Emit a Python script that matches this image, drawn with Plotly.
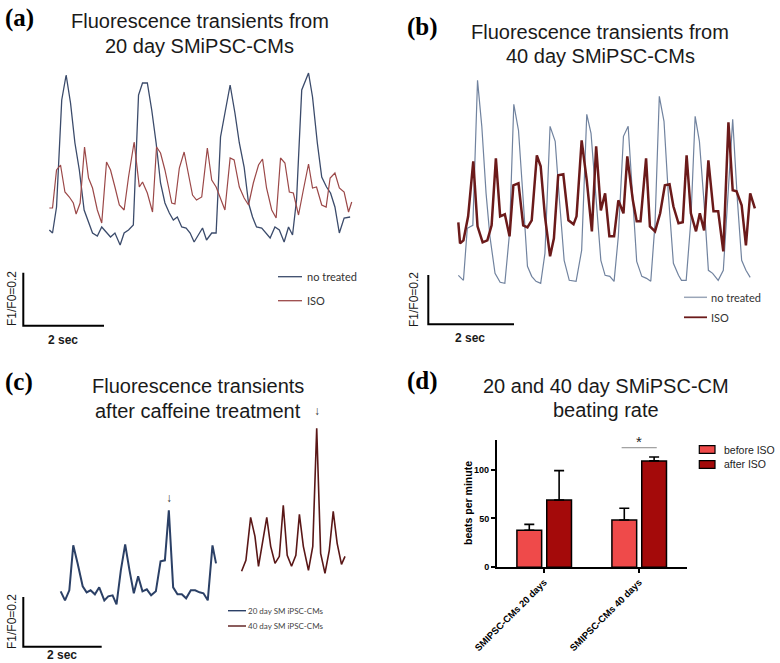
import plotly.graph_objects as go

# ---------------- data ----------------
# (a) 20 day SMiPSC-CMs : time (s) and fluorescence (a.u., 53 a.u. = 0.2 F1/F0)
A_BLUE_T = [0, .08, .18, .31, .42, .53, .64, .75, .87, .98, 1.08, 1.2, 1.31, 1.42, 1.53, 1.64, 1.77, 1.87, 1.98, 2.1,
            2.23, 2.33, 2.45, 2.56, 2.67, 2.78, 2.89, 3.0, 3.1, 3.2, 3.31, 3.42, 3.52, 3.62, 3.73, 3.83, 3.93, 4.06, 4.17, 4.28,
            4.39, 4.52, 4.64, 4.75, 4.87, 4.98, 5.08, 5.18, 5.31, 5.42, 5.52, 5.64, 5.75, 5.87, 5.98, 6.08, 6.18, 6.31, 6.48, 6.58,
            6.7, 6.81, 6.93, 7.03, 7.14, 7.25, 7.37, 7.52]
A_BLUE_V = [30, 27, 53, 160, 185, 157, 117, 90, 50, 37, 27, 24, 33, 28, 23, 27, 15, 27, 30, 35,
            165, 177, 177, 150, 117, 77, 57, 47, 40, 43, 33, 32, 27, 18, 25, 32, 20, 27, 27, 123,
            147, 175, 147, 117, 93, 57, 43, 33, 32, 27, 22, 33, 30, 18, 33, 25, 60, 170, 187, 163,
            117, 83, 73, 67, 53, 27, 42, 43]
A_RED_T = [0, .08, .18, .28, .39, .5, .6, .67, .77, .88, .98, 1.08, 1.2, 1.31, 1.43, 1.53, 1.64, 1.75, 1.87, 1.98,
           2.12, 2.25, 2.33, 2.45, 2.58, 2.68, 2.78, 2.89, 2.98, 3.06, 3.14, 3.25, 3.37, 3.48, 3.58, 3.68, 3.81, 3.95, 4.06, 4.17,
           4.27, 4.39, 4.52, 4.62, 4.75, 4.87, 4.98, 5.1, 5.23, 5.33, 5.43, 5.56, 5.67, 5.78, 5.89, 6.0, 6.1, 6.23, 6.35, 6.48,
           6.58, 6.68, 6.81, 6.92, 7.02, 7.14, 7.25, 7.37, 7.48, 7.56]
A_RED_V = [52, 52, 90, 95, 68, 63, 57, 46, 57, 113, 82, 72, 50, 37, 98, 90, 73, 55, 50, 83,
           118, 73, 78, 67, 48, 113, 107, 90, 73, 57, 56, 92, 108, 85, 65, 60, 63, 112, 80, 73,
           63, 50, 102, 100, 73, 62, 55, 77, 95, 101, 72, 50, 42, 102, 97, 68, 67, 45, 70, 96,
           72, 73, 55, 53, 82, 87, 72, 68, 48, 58]

# (b) 40 day SMiPSC-CMs
B_BLUE_T = [0, .12, .21, .34, .45, .55, .65, .74, .86, .98, 1.09, 1.2, 1.3, 1.41, 1.51, 1.62, 1.72, 1.82, 1.93, 2.03,
            2.15, 2.27, 2.37, 2.48, 2.6, 2.76, 2.89, 3.01, 3.11, 3.23, 3.34, 3.44, 3.55, 3.65, 3.75, 3.87, 3.98, 4.09, 4.18, 4.3,
            4.41, 4.51, 4.61, 4.71, 4.82, 4.92, 5.04, 5.16, 5.23, 5.34, 5.45, 5.55, 5.65, 5.76, 5.86, 5.96, 6.09, 6.21, 6.33, 6.43,
            6.54, 6.64, 6.74, 6.84]
B_BLUE_V = [18, 13, 65, 68, 213, 167, 100, 57, 20, 11, 10, 60, 189, 163, 100, 27, 17, 12, 10, 40,
            167, 152, 93, 33, 13, 12, 43, 179, 160, 93, 33, 18, 17, 12, 57, 157, 167, 93, 32, 17,
            15, 12, 70, 197, 172, 100, 30, 18, 13, 13, 73, 177, 152, 90, 23, 20, 13, 23, 103, 174,
            93, 33, 23, 16]
B_RED_T = [0, .04, .12, .23, .35, .45, .57, .68, .78, .88, .98, 1.09, 1.2, 1.29, 1.41, 1.52, 1.62, 1.72, 1.84, 1.93,
           2.03, 2.15, 2.24, 2.34, 2.46, 2.58, 2.7, 2.77, 2.89, 3.01, 3.13, 3.23, 3.34, 3.44, 3.54, 3.65, 3.75, 3.87, 3.96, 4.09,
           4.18, 4.27, 4.4, 4.49, 4.61, 4.73, 4.84, 4.95, 5.04, 5.16, 5.26, 5.35, 5.45, 5.57, 5.66, 5.76, 5.86, 5.98, 6.09, 6.21,
           6.33, 6.43, 6.52, 6.64, 6.74, 6.84, 6.95]
B_RED_V = [71, 50, 53, 77, 132, 67, 51, 53, 68, 135, 77, 79, 57, 108, 110, 68, 66, 73, 138, 127,
           77, 37, 55, 118, 119, 73, 69, 77, 153, 113, 62, 147, 83, 100, 57, 57, 93, 80, 137, 93,
           72, 72, 135, 67, 62, 80, 108, 109, 87, 70, 71, 138, 80, 62, 80, 63, 133, 82, 82, 42,
           171, 103, 102, 88, 48, 100, 85]

# (c) after caffeine treatment
C_BLUE_T = [0, .11, .22, .32, .43, .56, .66, .76, .87, .98, 1.11, 1.21, 1.32, 1.42, 1.53, 1.64, 1.75, 1.86, 1.97, 2.08,
            2.19, 2.3, 2.42, 2.54, 2.65, 2.75, 2.86, 2.97, 3.08, 3.19, 3.31, 3.42, 3.53, 3.63, 3.74, 3.86, 3.95]
C_BLUE_V = [22, 13, 23, 68, 50, 27, 21, 23, 19, 26, 13, 17, 18, 9, 43, 69, 43, 20, 37, 22,
            24, 18, 22, 52, 53, 103, 26, 19, 19, 15, 23, 23, 21, 20, 13, 68, 50]
C_RED_T = [4.6, 4.71, 4.83, 4.94, 5.03, 5.14, 5.24, 5.34, 5.45, 5.56, 5.66, 5.76, 5.87, 5.98, 6.07, 6.17, 6.3, 6.41,
           6.51, 6.61, 6.72, 6.83, 6.93, 7.03, 7.14, 7.23]
C_RED_V = [42, 53, 96, 77, 47, 72, 96, 67, 50, 57, 108, 58, 47, 58, 99, 67, 43, 67,
           185, 60, 40, 63, 102, 70, 49, 57]

# (d) beating rate
D_GROUPS = ["SMIPSC-CMs 20 days", "SMIPSC-CMs 40 days"]
D_BEFORE = [38, 48.5]
D_BEFORE_ERR = [6, 12]
D_AFTER = [69, 109]
D_AFTER_ERR = [30, 4]
D_Y_TICKS = [0, 50, 100]

# ---------------- helpers ----------------
W, H = 780, 663
SANS = "Liberation Sans, Arial, sans-serif"
SERIF = "Liberation Serif, Times New Roman, serif"
LEG = "Lato, Open Sans, sans-serif"


def fx(px):
    return px / W


def fy(py):
    return 1 - py / H


def ann(text, x, y, size, family=SANS, color="#1a1a1a", weight="normal", angle=0,
        xanchor="center", yanchor="middle"):
    return dict(text=text, x=fx(x), y=fy(y), xref="paper", yref="paper", showarrow=False,
                font=dict(size=size, family=family, color=color, weight=weight),
                textangle=angle, xanchor=xanchor, yanchor=yanchor)


def panel_axes(t0_px, v0_px, pps, box):
    bx0, bx1, by0, by1 = box
    xa = dict(domain=[fx(bx0), fx(bx1)], range=[(bx0 - t0_px) / pps, (bx1 - t0_px) / pps],
              visible=False, automargin=False)
    ya = dict(domain=[fy(by1), fy(by0)], range=[v0_px - by1, v0_px - by0], visible=False, automargin=False)
    return xa, ya


def pline(x0, y0, x1, y1, color, width):
    return dict(type="line", xref="paper", yref="paper", x0=fx(x0), y0=fy(y0), x1=fx(x1), y1=fy(y1),
                line=dict(color=color, width=width))


BLUE_A, RED_A = "#3b4b6b", "#9b4848"
BLUE_B, RED_B = "#71839f", "#6b1a1a"
BLUE_C, RED_C = "#2b4066", "#5a1717"
BEFORE_COL, AFTER_COL = "#ef4a4a", "#a40a0a"

fig = go.Figure()

# traces (a)
fig.add_trace(go.Scatter(x=A_BLUE_T, y=A_BLUE_V, mode="lines", line=dict(color=BLUE_A, width=1.3),
                         xaxis="x", yaxis="y", showlegend=False, hoverinfo="skip"))
fig.add_trace(go.Scatter(x=A_RED_T, y=A_RED_V, mode="lines", line=dict(color=RED_A, width=1.2),
                         xaxis="x", yaxis="y", showlegend=False, hoverinfo="skip"))
# traces (b)
fig.add_trace(go.Scatter(x=B_BLUE_T, y=B_BLUE_V, mode="lines", line=dict(color=BLUE_B, width=1.2),
                         xaxis="x2", yaxis="y2", showlegend=False, hoverinfo="skip"))
fig.add_trace(go.Scatter(x=B_RED_T, y=B_RED_V, mode="lines", line=dict(color=RED_B, width=2.5),
                         xaxis="x2", yaxis="y2", showlegend=False, hoverinfo="skip"))
# traces (c)
fig.add_trace(go.Scatter(x=C_BLUE_T, y=C_BLUE_V, mode="lines", line=dict(color=BLUE_C, width=2),
                         xaxis="x3", yaxis="y3", showlegend=False, hoverinfo="skip"))
fig.add_trace(go.Scatter(x=C_RED_T, y=C_RED_V, mode="lines", line=dict(color=RED_C, width=1.6),
                         xaxis="x3", yaxis="y3", showlegend=False, hoverinfo="skip"))
# bars (d)
fig.add_trace(go.Bar(x=D_GROUPS, y=D_BEFORE, name="before ISO", marker=dict(color=BEFORE_COL, line=dict(color="black", width=1.5)),
                     error_y=dict(type="data", symmetric=False, array=D_BEFORE_ERR, arrayminus=[0, 0],
                                  color="black", thickness=1.6, width=5),
                     xaxis="x4", yaxis="y4", showlegend=False, hoverinfo="skip"))
fig.add_trace(go.Bar(x=D_GROUPS, y=D_AFTER, name="after ISO", marker=dict(color=AFTER_COL, line=dict(color="black", width=1.5)),
                     error_y=dict(type="data", symmetric=False, array=D_AFTER_ERR, arrayminus=[0, 0],
                                  color="black", thickness=1.6, width=5),
                     xaxis="x4", yaxis="y4", showlegend=False, hoverinfo="skip"))

xa1, ya1 = panel_axes(49.33, 260, 40, (0, 390, 55, 345))
xa2, ya2 = panel_axes(458.33, 293.33, 42.67, (390, 780, 55, 345))
xa3, ya3 = panel_axes(60.67, 613.33, 39.33, (0, 390, 370, 663))
ya2["anchor"] = "x2"
xa2["anchor"] = "y2"
ya3["anchor"] = "x3"
xa3["anchor"] = "y3"

tickfont_b = dict(family=SANS, size=9, color="black", weight="bold")
xa4 = dict(domain=[fx(496.7), fx(686.7)], anchor="y4", type="category", range=[-0.5, 1.5],
           showline=True, linecolor="black", linewidth=1.5, ticks="outside", ticklen=4, tickwidth=1.5,
           tickcolor="black", tickangle=-45, tickfont=dict(family=SANS, size=9.5, color="black", weight="bold"),
           showgrid=False, zeroline=False, automargin=False)
ya4 = dict(domain=[fy(567.3), fy(440.4)], anchor="x4", range=[0, 130], tickvals=D_Y_TICKS,
           showline=True, linecolor="black", linewidth=1.5, ticks="outside", ticklen=4, tickwidth=1.5,
           tickcolor="black", tickfont=tickfont_b, showgrid=False, zeroline=False, automargin=False)

shapes = [
    # scale bars
    dict(type="path", xref="paper", yref="paper",
         path=f"M {fx(23.3)},{fy(272.7)} L {fx(23.3)},{fy(325.7)} L {fx(104)},{fy(325.7)}",
         line=dict(color="black", width=2)),
    dict(type="path", xref="paper", yref="paper",
         path=f"M {fx(428.3)},{fy(275)} L {fx(428.3)},{fy(324.3)} L {fx(514)},{fy(324.3)}",
         line=dict(color="black", width=2)),
    dict(type="path", xref="paper", yref="paper",
         path=f"M {fx(23.3)},{fy(597)} L {fx(23.3)},{fy(646.7)} L {fx(101.7)},{fy(646.7)}",
         line=dict(color="black", width=2)),
    # legends
    pline(278, 276.7, 302, 276.7, BLUE_A, 1.3),
    pline(278, 300.7, 302, 300.7, RED_A, 1.3),
    pline(684, 297.3, 707, 297.3, "#9aa6b8", 1.5),
    pline(684, 317.3, 707, 317.3, RED_B, 1.8),
    pline(228, 610.7, 246, 610.7, BLUE_C, 1.4),
    pline(228, 626, 246, 626, RED_C, 1.4),
    # significance line (d)
    dict(type="line", xref="x4", yref="y4", x0=0.815, x1=1.185, y0=122.5, y1=122.5,
         line=dict(color="#8a8a8a", width=1)),
    # legend (d)
    dict(type="rect", xref="paper", yref="paper", x0=fx(699.3), x1=fx(715), y0=fy(453.3), y1=fy(445.7),
         fillcolor=BEFORE_COL, line=dict(color="black", width=1.2)),
    dict(type="rect", xref="paper", yref="paper", x0=fx(699.3), x1=fx(715), y0=fy(468.3), y1=fy(460.7),
         fillcolor=AFTER_COL, line=dict(color="black", width=1.2)),
]

annotations = [
    ann("(a)", 19, 18, 25, family=SERIF, color="black", weight="bold"),
    ann("Fluorescence transients from", 200, 21, 20),
    ann("20 day SMiPSC-CMs", 200, 46, 20),
    ann("(b)", 423, 27, 25, family=SERIF, color="black", weight="bold"),
    ann("Fluorescence transients from", 600, 31.5, 20),
    ann("40 day SMiPSC-CMs", 600, 55.5, 20),
    ann("(c)", 19, 382, 25, family=SERIF, color="black", weight="bold"),
    ann("Fluorescence transients", 198, 386, 20),
    ann("after caffeine treatment", 198, 410.5, 20),
    ann("(d)", 423, 381, 25, family=SERIF, color="black", weight="bold"),
    ann("20 and 40 day SMiPSC-CM", 605.5, 385.5, 20),
    ann("beating rate", 605.5, 410, 20),
    # scale bar labels
    ann("F1/F0=0.2", 12, 299, 12, angle=-90),
    ann("2 sec", 63, 340, 12, weight="bold"),
    ann("F1/F0=0.2", 414, 300, 12, angle=-90),
    ann("2 sec", 470, 338, 12, weight="bold"),
    ann("F1/F0=0.2", 12, 622, 12, angle=-90),
    ann("2 sec", 62, 655, 12, weight="bold"),
    # legends
    ann("no treated", 305, 276.7, 11, family=LEG, color="#333", xanchor="left"),
    ann("ISO", 305, 300.7, 11, family=LEG, color="#333", xanchor="left"),
    ann("no treated", 709, 297.3, 11, family=LEG, color="#333", xanchor="left"),
    ann("ISO", 709, 317.3, 11, family=LEG, color="#333", xanchor="left"),
    ann("20 day SM iPSC-CMs", 245.5, 610.7, 8, family=LEG, color="#444", xanchor="left"),
    ann("40 day SM iPSC-CMs", 245.5, 626, 8, family=LEG, color="#444", xanchor="left"),
    # arrows (c)
    ann("↓", 169, 498, 12, color="#333"),
    ann("↓", 316.5, 411, 12, color="#333"),
    # (d) extras
    ann("beats per minute", 467.5, 503.5, 10.5, color="black", weight="bold", angle=-90),
    ann("before ISO", 721.5, 449.5, 10.5, color="#222", xanchor="left"),
    ann("after ISO", 721.5, 464.5, 10.5, color="#222", xanchor="left"),
    dict(text="*", x=1, y=128.5, xref="x4", yref="y4", showarrow=False, yanchor="middle",
         font=dict(size=15, family=SANS, color="#222")),
]

fig.update_layout(
    width=W, height=H, margin=dict(l=0, r=0, t=0, b=0, pad=0, autoexpand=False),
    paper_bgcolor="white", plot_bgcolor="white",
    xaxis=xa1, yaxis=ya1, xaxis2=xa2, yaxis2=ya2, xaxis3=xa3, yaxis3=ya3,
    xaxis4=xa4, yaxis4=ya4,
    barmode="group", bargap=0.372, bargroupgap=0.17,
    shapes=shapes, annotations=annotations, showlegend=False,
)

fig.write_html("out.html", config={"displayModeBar": False},
               post_script="document.body.style.margin='0';")
